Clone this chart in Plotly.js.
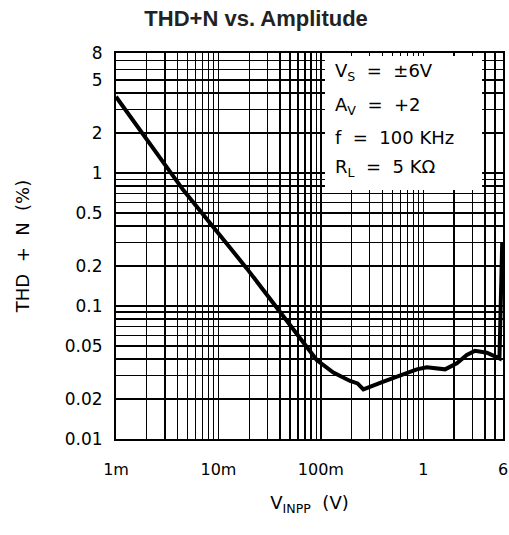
<!DOCTYPE html>
<html>
<head>
<meta charset="utf-8">
<script src="https://cdn.plot.ly/plotly-3.0.1.min.js"></script>
<style>html,body{margin:0;padding:0;background:#fff;}#chart{width:509px;height:535px;}</style>
</head>
<body>
<div id="chart"></div>
<script>
// THD+N (%) vs input amplitude V_INPP (V)
const vinpp = [0.001, 0.00454, 0.0189, 0.0415, 0.0912, 0.1325, 0.193, 0.228, 0.2415, 0.26, 0.408, 0.593, 0.864, 1.082, 1.633, 2.124, 2.66, 3.2, 4.17, 5.54, 5.89];
const thdn  = [3.75, 0.745, 0.192, 0.0881, 0.0393, 0.0316, 0.0273, 0.0262, 0.0248, 0.0236, 0.027, 0.0303, 0.0334, 0.0346, 0.0334, 0.0371, 0.0428, 0.0461, 0.0446, 0.0404, 0.298];

// grid positions and tick labels
const xGridVals = [0.001,0.002,0.003,0.004,0.005,0.006,0.007,0.008,0.009,
                   0.01,0.02,0.03,0.04,0.05,0.06,0.07,0.08,0.09,
                   0.1,0.2,0.3,0.4,0.5,0.6,0.7,0.8,0.9,
                   1,2,3,4,5,6];
const xLabelVals = [0.001, 0.01, 0.1, 1, 6];
const xLabelText = ['1m', '10m', '100m', '1', '6'];

const yGridVals = [0.01,0.02,0.03,0.04,0.05,0.06,0.07,0.08,0.09,
                   0.1,0.2,0.3,0.4,0.5,0.6,0.7,0.8,0.9,
                   1,2,3,4,5,6,7,8];
const yLabelVals = [0.01, 0.02, 0.05, 0.1, 0.2, 0.5, 1, 2, 5, 8];
const yLabelText = ['0.01', '0.02', '0.05', '0.1', '0.2', '0.5', '1', '2', '5', '8'];

const conditions = [
  'V<sub>S</sub>\u00a0 = \u00a0±6V',
  'A<sub>V</sub>\u00a0 = \u00a0+2',
  'f\u00a0 = \u00a0100\u00a0KHz',
  'R<sub>L</sub>\u00a0 = \u00a05\u00a0KΩ'
];

const F = 'DejaVu Sans, sans-serif';

const trace = {
  x: vinpp, y: thdn, type: 'scatter', mode: 'lines',
  line: {color: '#000', width: 4}, hoverinfo: 'skip'
};

const annY = [0.951, 0.862, 0.78, 0.703];
const annotations = conditions.map((t, i) => ({
  text: t, xref: 'paper', yref: 'paper', x: 0.56, y: annY[i],
  xanchor: 'left', yanchor: 'middle', showarrow: false, align: 'left',
  font: {family: F, size: 18, color: '#000'}
}));

const gridStyle = {showgrid: true, gridcolor: '#000', gridwidth: 1.3, ticks: ''};

const layout = {
  width: 509, height: 535,
  margin: {l: 116, r: 6, t: 53, b: 96},
  paper_bgcolor: '#fff', plot_bgcolor: '#fff',
  showlegend: false,
  title: {
    text: '<b>THD+N vs. Amplitude</b>',
    font: {family: 'Liberation Sans, Arial, sans-serif', size: 22, color: '#222'},
    xref: 'paper', x: 0.362, xanchor: 'center',
    yref: 'container', y: 0.965, yanchor: 'middle'
  },
  xaxis: {
    type: 'log', range: [Math.log10(0.001), Math.log10(6)],
    tickmode: 'array', tickvals: xLabelVals, ticktext: xLabelText,
    ticks: '', showgrid: true, gridcolor: '#000', gridwidth: 1.3,
    minor: Object.assign({tickmode: 'array', tickvals: xGridVals}, gridStyle),
    showline: true, linecolor: '#000', linewidth: 2, mirror: true,
    zeroline: false, ticklabelstandoff: 15,
    tickfont: {family: F, size: 16, color: '#000'},
    title: {text: 'V<sub>INPP</sub>\u00a0 (V)', font: {family: F, size: 18, color: '#000'}, standoff: 18}
  },
  yaxis: {
    type: 'log', range: [Math.log10(0.01), Math.log10(8)],
    tickmode: 'array', tickvals: yLabelVals, ticktext: yLabelText,
    ticks: '', showgrid: true, gridcolor: '#000', gridwidth: 1.3,
    minor: Object.assign({tickmode: 'array', tickvals: yGridVals}, gridStyle),
    showline: true, linecolor: '#000', linewidth: 2, mirror: true,
    zeroline: false, ticklabelstandoff: 8,
    tickfont: {family: F, size: 17, color: '#000'},
    title: {text: 'THD\u00a0 +\u00a0 N\u00a0 (%)', font: {family: F, size: 18, color: '#000'}, standoff: 30}
  },
  shapes: [{
    type: 'rect', xref: 'paper', yref: 'paper', layer: 'above',
    x0: 0.54, x1: 0.946, y0: 0.645, y1: 0.992,
    fillcolor: '#fff', line: {width: 0}
  }],
  annotations: annotations
};

Plotly.newPlot('chart', [trace], layout, {displayModeBar: false, staticPlot: true});
</script>
</body>
</html>
